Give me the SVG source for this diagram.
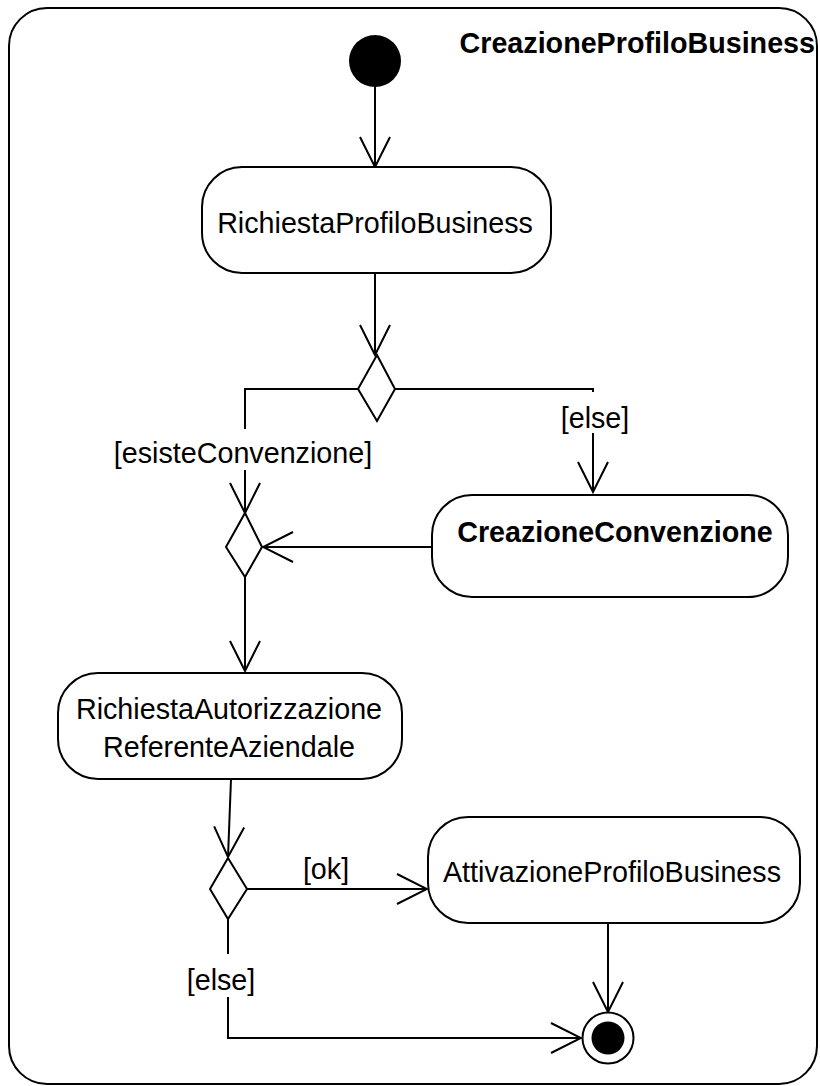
<svg xmlns="http://www.w3.org/2000/svg" width="820" height="1086" viewBox="0 0 820 1086">
<style>
.box{fill:#fff;stroke:#000;stroke-width:2}
.t{font-family:"Liberation Sans",Arial,sans-serif;font-size:28.7px;fill:#000;text-anchor:middle}
.b{font-weight:bold}
.c{fill:none;stroke:#000;stroke-width:2}
</style>
<defs>
<marker id="arr" viewBox="-32 -17 34 34" refX="0" refY="0" markerWidth="34" markerHeight="34" markerUnits="userSpaceOnUse" orient="auto">
<path d="M-30,-15 L0,0 L-30,15" fill="none" stroke="#000" stroke-width="2"/>
</marker>
</defs>
<rect x="0" y="0" width="820" height="1086" fill="#fff"/>
<g id="frame">
<rect class="box" x="9" y="8" width="808" height="1076" rx="38" ry="38"/>
<text class="t b" x="815" y="53" style="text-anchor:end">CreazioneProfiloBusiness</text>
</g>
<g id="connectors">
<path class="c" d="M375,87 L375,167" marker-end="url(#arr)"/>
<path class="c" d="M375,273 L375,355" marker-end="url(#arr)"/>
<path class="c" d="M358,389 L245,389 L245,429"/>
<text class="t" x="243" y="463">[esisteConvenzione]</text>
<path class="c" d="M245,470 L245,513" marker-end="url(#arr)"/>
<path class="c" d="M395,389 L593,389 L593,392"/>
<text class="t" x="595" y="428">[else]</text>
<path class="c" d="M593,433 L593,492" marker-end="url(#arr)"/>
<path class="c" d="M432,547 L263,547" marker-end="url(#arr)"/>
<path class="c" d="M245,577 L245,671" marker-end="url(#arr)"/>
<path class="c" d="M231,779 L228,857" marker-end="url(#arr)"/>
<path class="c" d="M247,889 L427,889" marker-end="url(#arr)"/>
<text class="t" x="326" y="879">[ok]</text>
<path class="c" d="M608,923 L608,1012" marker-end="url(#arr)"/>
<path class="c" d="M228,919 L228,954"/>
<text class="t" x="221" y="990">[else]</text>
<path class="c" d="M228,997 L228,1038 L581,1038" marker-end="url(#arr)"/>
</g>
<g id="initial">
<circle cx="375" cy="61" r="26" fill="#000"/>
</g>
<g id="richiestaProfilo">
<rect class="box" x="202" y="167" width="349" height="106" rx="40" ry="40"/>
<text class="t" x="375" y="233">RichiestaProfiloBusiness</text>
</g>
<g id="decision1">
<polygon class="box" points="377,355 395,389 377,421 358,389"/>
</g>
<g id="creazioneConvenzione">
<rect class="box" x="432" y="495" width="356" height="102" rx="40" ry="40"/>
<text class="t b" x="615" y="542">CreazioneConvenzione</text>
</g>
<g id="merge">
<polygon class="box" points="245,513 262,547 245,577 226,547"/>
</g>
<g id="richiestaAutorizzazione">
<rect class="box" x="58" y="673" width="344" height="106" rx="40" ry="40"/>
<text class="t" x="229" y="719">RichiestaAutorizzazione</text>
<text class="t" x="229" y="757">ReferenteAziendale</text>
</g>
<g id="decision2">
<polygon class="box" points="228,858 247,889 228,919 210,889"/>
</g>
<g id="attivazione">
<rect class="box" x="428" y="817" width="372" height="106" rx="40" ry="40"/>
<text class="t" x="612" y="882">AttivazioneProfiloBusiness</text>
</g>
<g id="final">
<circle cx="608" cy="1038" r="25.5" fill="#fff" stroke="#000" stroke-width="2"/>
<circle cx="608" cy="1038" r="16.5" fill="#000"/>
</g>
</svg>
